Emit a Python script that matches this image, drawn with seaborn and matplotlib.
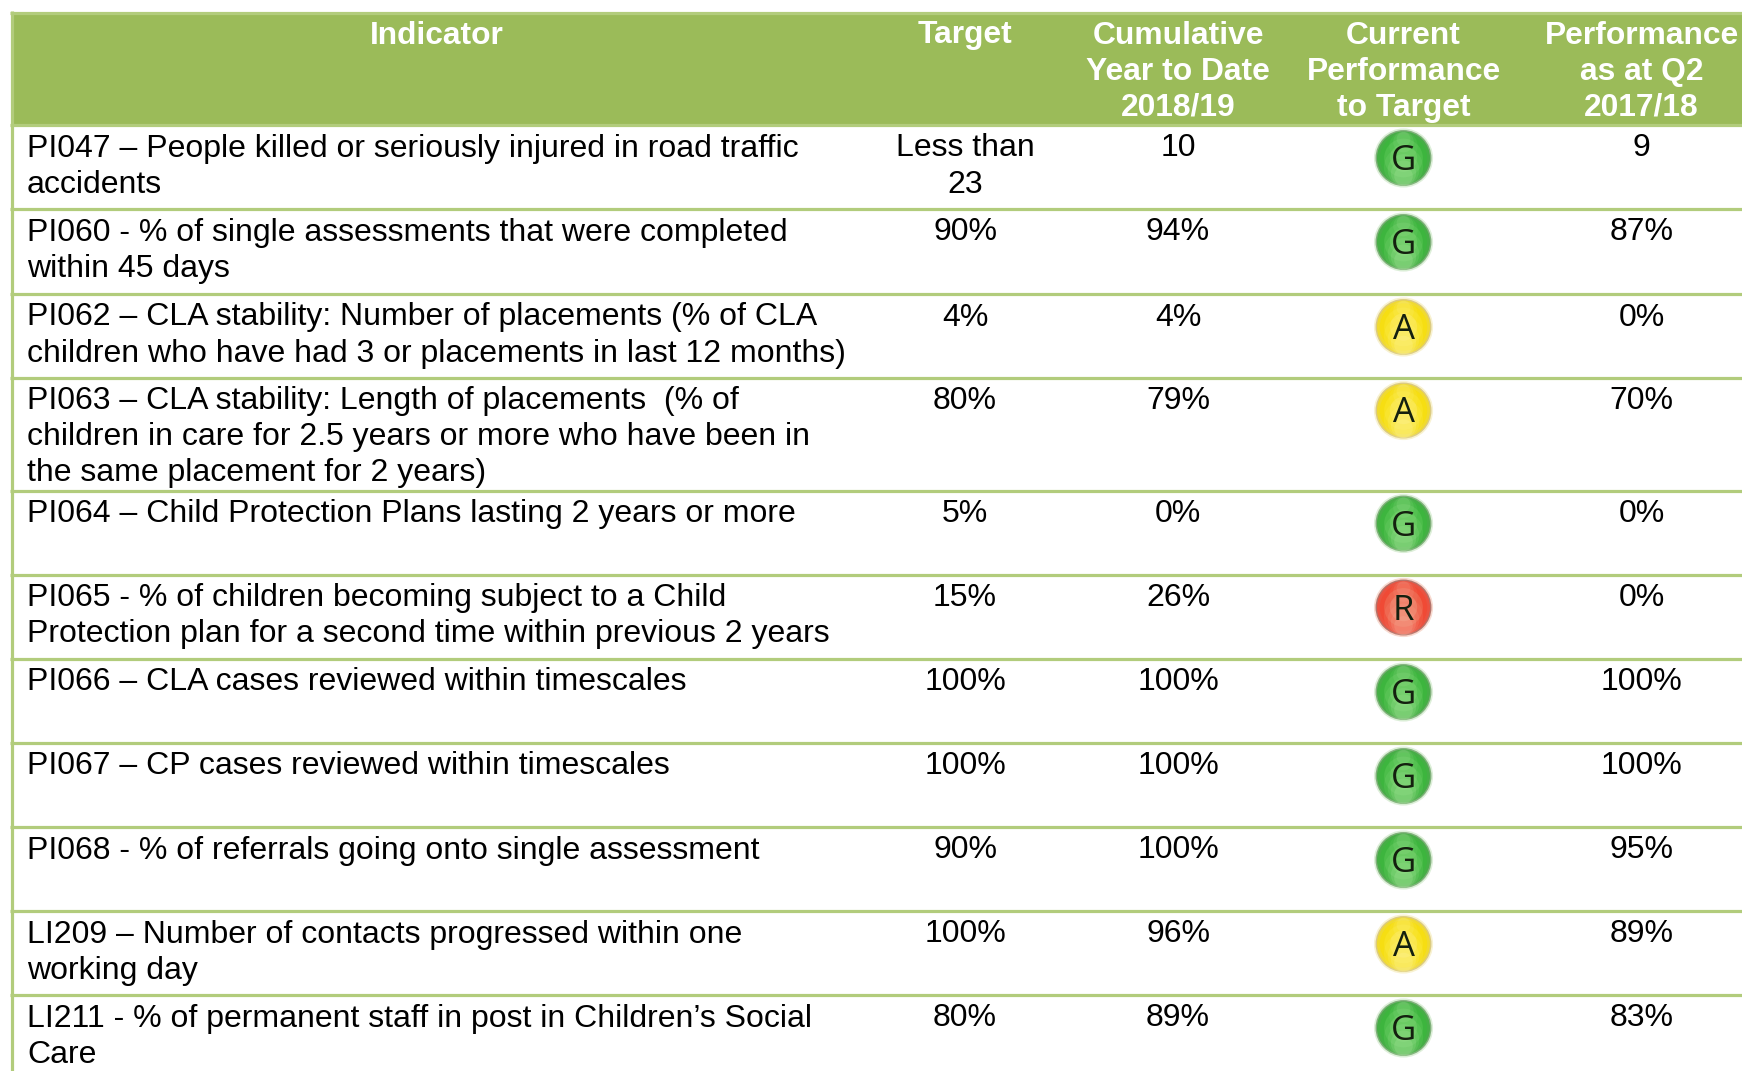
import matplotlib
matplotlib.use("Agg")
import matplotlib.pyplot as plt
import pandas as pd
import seaborn as sns

indicator_lines = [
    ["PI047 – People killed or seriously injured in road traffic", "accidents"],
    ["PI060 - % of single assessments that were completed", "within 45 days"],
    ["PI062 – CLA stability: Number of placements (% of CLA", "children who have had 3 or placements in last 12 months)"],
    ["PI063 – CLA stability: Length of placements  (% of", "children in care for 2.5 years or more who have been in", "the same placement for 2 years)"],
    ["PI064 – Child Protection Plans lasting 2 years or more"],
    ["PI065 - % of children becoming subject to a Child", "Protection plan for a second time within previous 2 years"],
    ["PI066 – CLA cases reviewed within timescales"],
    ["PI067 – CP cases reviewed within timescales"],
    ["PI068 - % of referrals going onto single assessment"],
    ["LI209 – Number of contacts progressed within one", "working day"],
    ["LI211 - % of permanent staff in post in Children’s Social", "Care"],
]
target = [["Less than", "23"], ["90%"], ["4%"], ["80%"], ["5%"], ["15%"], ["100%"], ["100%"], ["90%"], ["100%"], ["80%"]]
cumulative = ["10", "94%", "4%", "79%", "0%", "26%", "100%", "100%", "100%", "96%", "89%"]
rating = ["G", "G", "A", "A", "G", "R", "G", "G", "G", "A", "G"]
previous = ["9", "87%", "0%", "70%", "0%", "0%", "100%", "100%", "95%", "89%", "83%"]
headers = [["Indicator"], ["Target"], ["Cumulative", "Year to Date", "2018/19"],
           ["Current", "Performance", "to Target"], ["Performance", "as at Q2", "2017/18"]]

W, H = 1742, 1071
DPI = 100
row_edges = [125, 209, 294, 377.5, 490.5, 574.5, 659, 743, 827, 911, 995]
col_x = [437, 965, 1178, 1403.5, 1641.5]
LEFT_TEXT = 27
FS = 23.03
FS_H = 22.9
LINE = 36.2
BASE = 31.5
GRID = "#B2CC7C"
HEAD = "#9BBB59"
FONT = "Liberation Sans"

# soft halo, rim, then body shades working inwards
layers = {
    "G": ["#DDEFD9", "#7FB07A", "#46AE46", "#3DB53E", "#4CBE4A", "#5CC656"],
    "A": ["#F8F2D2", "#DCCB80", "#F0DA30", "#F6DE12", "#F8E220", "#FAE640"],
    "R": ["#F8DAD0", "#B5736A", "#EA5240", "#F04A35", "#EE6048", "#EE7860"],
}
layer_scale = [1.12, 1.0, 0.9, 0.72, 0.48, 0.24]
glow = {"G": "#B6EAA8", "A": "#FFF6A8", "R": "#F8B8A4"}

sns.set_theme(style="white")
fig = plt.figure(figsize=(W / DPI, H / DPI), dpi=DPI, facecolor="white")
ax = fig.add_axes([0, 0, 1, 1])
ax.set_xlim(0, W)
ax.set_ylim(H, 0)
ax.axis("off")

ax.axhspan(12.5, row_edges[0], xmin=12 / W, color=HEAD, lw=0, zorder=1)
ax.hlines([12.5] + row_edges, 10, W, color=GRID, lw=2.3, zorder=2)
ax.vlines(12, 11, H, color=GRID, lw=2.3, zorder=2)

marks = pd.DataFrame({
    "x": [col_x[3]] * len(rating),
    "y": [e + 33 for e in row_edges],
    "rating": rating,
})
for level, scale in enumerate(layer_scale):
    sns.scatterplot(
        data=marks, x="x", y="y", hue="rating",
        palette={k: v[level] for k, v in layers.items()},
        s=1620 * scale, linewidth=0, legend=False, ax=ax, zorder=3 + level,
    )
# soft pale glow at the lower and upper rim: many faint discs build up a fade
for offset, size, alpha in [(9, 800, 0.10), (12, 520, 0.14), (15, 330, 0.18), (18, 180, 0.22),
                            (-12, 420, 0.08), (-16, 220, 0.12), (-19, 100, 0.16)]:
    sns.scatterplot(
        x=marks["x"], y=marks["y"] + offset, hue=marks["rating"],
        palette=glow, s=size, linewidth=0, alpha=alpha,
        legend=False, ax=ax, zorder=9,
    )
ax.set_xlabel("")
ax.set_ylabel("")

for x, lines in zip(col_x, headers):
    for j, line in enumerate(lines):
        ax.text(x, 43.5 + j * LINE, line, ha="center", va="baseline", color="white",
                fontsize=FS_H, fontweight="bold", family=FONT, zorder=10)

for i, top in enumerate(row_edges):
    base = top + BASE
    for j, line in enumerate(indicator_lines[i]):
        ax.text(LEFT_TEXT, base + j * LINE, line, ha="left", va="baseline",
                color="black", fontsize=FS, family=FONT, zorder=10)
    for j, line in enumerate(target[i]):
        ax.text(col_x[1], base + j * LINE, line, ha="center", va="baseline",
                color="black", fontsize=FS, family=FONT, zorder=10)
    ax.text(col_x[2], base, cumulative[i], ha="center", va="baseline",
            color="black", fontsize=FS, family=FONT, zorder=10)
    ax.text(col_x[4], base, previous[i], ha="center", va="baseline",
            color="black", fontsize=FS, family=FONT, zorder=10)
    ax.text(col_x[3], top + 32, rating[i], ha="center", va="center_baseline",
            color="#14200F", fontsize=25, family="Open Sans", zorder=10)

fig.savefig("out.png", dpi=DPI, facecolor="white")
